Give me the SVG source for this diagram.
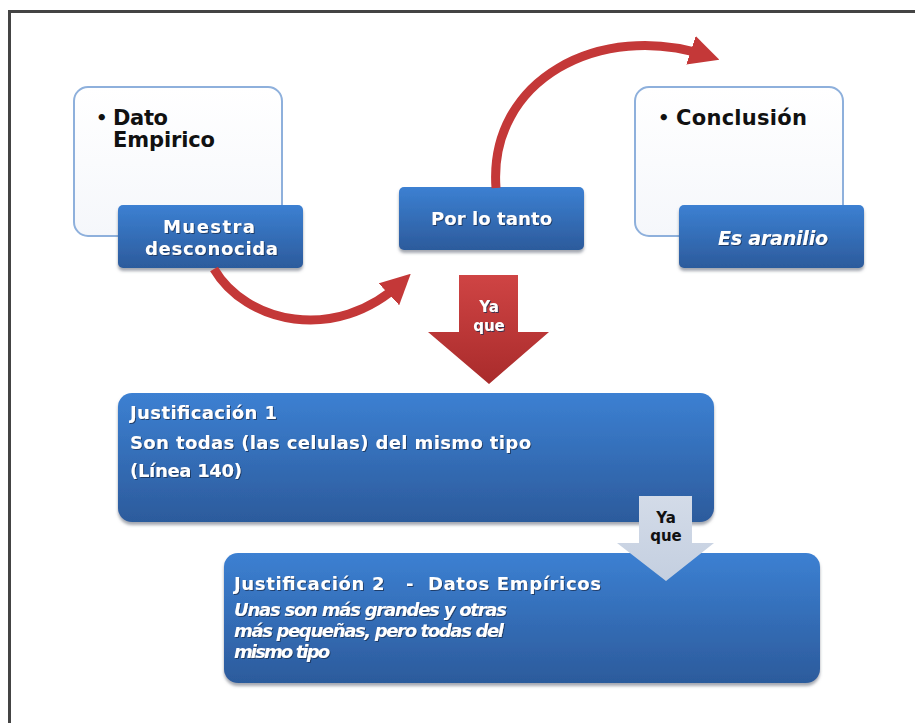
<svg xmlns="http://www.w3.org/2000/svg" width="915" height="723" viewBox="0 0 915 723">
<defs>
<linearGradient id="gBlue" x1="0" y1="0" x2="0" y2="1">
<stop offset="0" stop-color="#3c80d2"/>
<stop offset="1" stop-color="#2c5b9c"/>
</linearGradient>
<linearGradient id="gWhite" x1="0" y1="0" x2="0" y2="1">
<stop offset="0" stop-color="#ffffff"/>
<stop offset="1" stop-color="#f5f7fb"/>
</linearGradient>
<linearGradient id="gRed" x1="0" y1="0" x2="0" y2="1">
<stop offset="0" stop-color="#cf4444"/>
<stop offset="1" stop-color="#a92b2b"/>
</linearGradient>
<linearGradient id="gGray" x1="0" y1="0" x2="0" y2="1">
<stop offset="0" stop-color="#d3dbe8"/>
<stop offset="1" stop-color="#c4cfe0"/>
</linearGradient>
<filter id="sh" x="-10%" y="-10%" width="120%" height="130%">
<feDropShadow dx="0" dy="3" stdDeviation="1.5" flood-color="#5a6270" flood-opacity="0.55"/>
</filter>
<filter id="ts" x="-5%" y="-20%" width="110%" height="150%">
<feDropShadow dx="1" dy="1" stdDeviation="0.6" flood-color="#1a2f55" flood-opacity="0.8"/>
</filter>
<marker id="redHead" markerUnits="userSpaceOnUse" markerWidth="30" markerHeight="30" refX="12" refY="10" orient="auto" viewBox="0 0 20 20">
<path d="M0,0 L20,10 L0,20 Z" fill="#c43838"/>
</marker>
</defs>
<style>
.white{fill:url(#gWhite);stroke:#8eb0dc;stroke-width:2}
.blue{fill:url(#gBlue);filter:url(#sh)}
.bk{font-family:"DejaVu Sans",sans-serif;font-weight:bold;fill:#111}
.wt{font-family:"DejaVu Sans",sans-serif;font-weight:bold;fill:#ffffff;filter:url(#ts)}
.it{font-style:italic}
.curve{fill:none;stroke:#c43838;stroke-width:9;stroke-linecap:butt}
</style>
<rect width="915" height="723" fill="#ffffff"/>
<path d="M9.5,723 L9.5,11.5 L915,11.5" fill="none" stroke="#444" stroke-width="3"/>

<g id="dato">
<rect class="white" x="74" y="87" width="208" height="149" rx="14"/>
<text class="bk" x="96" y="124" font-size="18">•</text>
<text class="bk" x="113" y="125" font-size="21" textLength="55">Dato</text>
<text class="bk" x="113" y="147" font-size="21" textLength="102">Empirico</text>
</g>
<g id="muestra">
<rect class="blue" x="118" y="205" width="185" height="63" rx="5"/>
<text class="wt" x="163" y="233" font-size="18" textLength="92">Muestra</text>
<text class="wt" x="145" y="255" font-size="18" textLength="133">desconocida</text>
</g>
<g id="porlotanto">
<rect class="blue" x="399" y="187" width="185" height="63" rx="5"/>
<text class="wt" x="431" y="225" font-size="18" textLength="121">Por lo tanto</text>
</g>
<g id="conclusion">
<rect class="white" x="635" y="87" width="208" height="149" rx="14"/>
<text class="bk" x="658" y="124" font-size="18">•</text>
<text class="bk" x="676" y="125" font-size="21" textLength="131">Conclusión</text>
</g>
<g id="aranilio">
<rect class="blue" x="679" y="205" width="185" height="63" rx="5"/>
<text class="wt it" x="718" y="245" font-size="19" textLength="110">Es aranilio</text>
</g>
<g id="just1">
<rect class="blue" x="118" y="393" width="596" height="129" rx="14"/>
<text class="wt" x="130" y="419" font-size="18" textLength="147">Justificación 1</text>
<text class="wt" x="130" y="449" font-size="18" textLength="401">Son todas (las celulas) del mismo tipo</text>
<text class="wt" x="130" y="477" font-size="18" textLength="112">(Línea 140)</text>
</g>
<g id="just2">
<rect class="blue" x="224" y="553" width="596" height="130" rx="14"/>
<text class="wt" x="234" y="590" font-size="18" textLength="367" xml:space="preserve">Justificación 2   -  Datos Empíricos</text>
<text class="wt it" x="234" y="616" font-size="18" textLength="273">Unas son más grandes y otras</text>
<text class="wt it" x="234" y="637" font-size="18" textLength="270">más pequeñas, pero todas del</text>
<text class="wt it" x="234" y="658" font-size="18" textLength="96">mismo tipo</text>
</g>

<g id="connectors">
<path class="curve" d="M214,269 C245,322 335,345 402,282" marker-end="url(#redHead)"/>
<path class="curve" d="M496,188 C488,80 600,20 708,56" marker-end="url(#redHead)"/>
<g id="yaque1">
<path d="M459,275 L518,275 L518,332 L549,332 L489,384 L428,332 L459,332 Z" fill="url(#gRed)"/>
<text class="wt" x="489" y="312" font-size="15" text-anchor="middle">Ya</text>
<text class="wt" x="489" y="331" font-size="15" text-anchor="middle">que</text>
</g>
<g id="yaque2">
<path d="M639,496 L692,496 L692,543 L714,543 L666,581 L617,543 L639,543 Z" fill="url(#gGray)"/>
<text class="bk" x="666" y="523" font-size="15" text-anchor="middle">Ya</text>
<text class="bk" x="666" y="541" font-size="15" text-anchor="middle">que</text>
</g>
</g>
</svg>
